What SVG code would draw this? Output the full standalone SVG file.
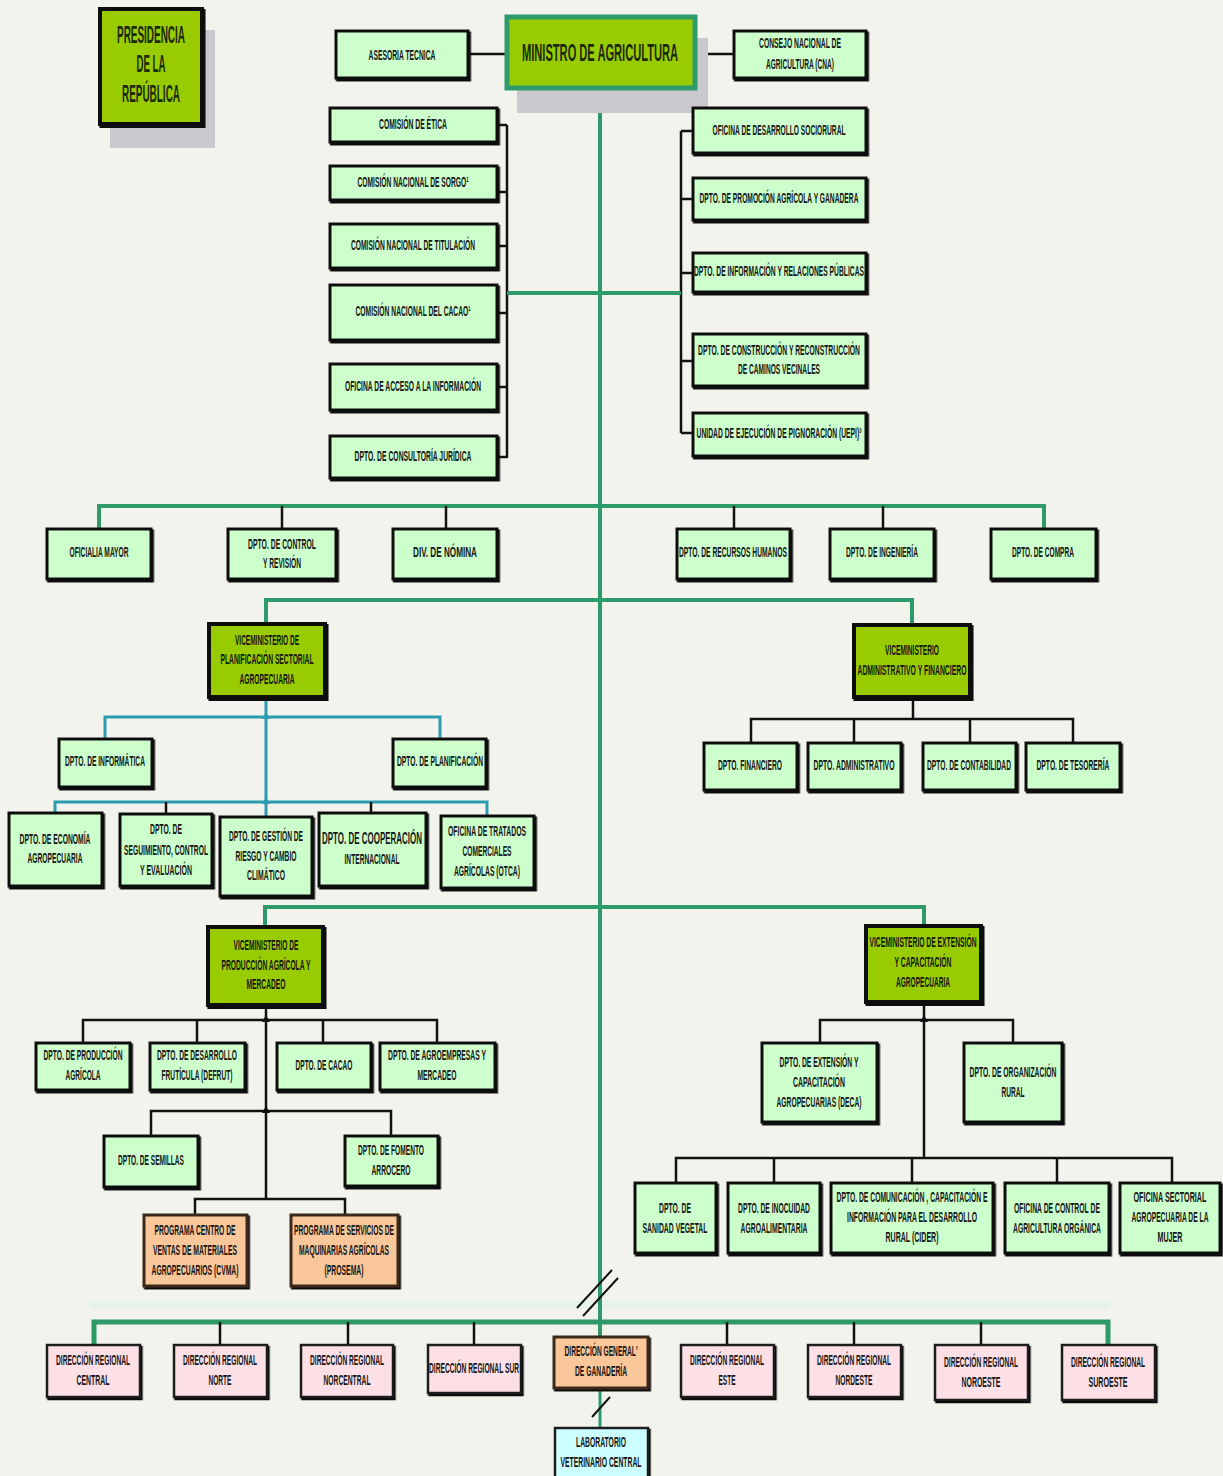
<svg xmlns="http://www.w3.org/2000/svg" width="1223" height="1476" viewBox="0 0 1223 1476">
<defs>
<filter id="sh" x="-5%" y="-5%" width="115%" height="120%"><feDropShadow dx="1.5" dy="2" stdDeviation="0" flood-color="#111" flood-opacity="1"/></filter>
<style>
.bg{fill:#f3f3ee}
.n rect{fill:#ccffcc;stroke:#111;stroke-width:3;filter:url(#sh)}
.vm rect{fill:#99cc00;stroke:#111;stroke-width:4;filter:url(#sh)}
.pk rect{fill:#fde0e6;stroke:#1a1a1a;stroke-width:2.5;filter:url(#sh)}
.or rect{fill:#fac79a;stroke:#3a2a1a;stroke-width:3;filter:url(#sh)}
.cy rect{fill:#ccffff;stroke:#1a1a1a;stroke-width:2.5;filter:url(#sh)}
text{font-family:"Liberation Sans",Arial,sans-serif;font-weight:bold;font-size:14px;fill:#161616;text-anchor:middle}
.big{font-size:24px;fill:#1c2a0c}
.g{stroke:#2e9a6a;stroke-width:4;fill:none}
.gt{stroke:#2e9a6a;stroke-width:3;fill:none}
.tl{stroke:#2b9bb0;stroke-width:3;fill:none}
.k{stroke:#111;stroke-width:2.5;fill:none}
.shade{fill:#c9c8cd}
.cg{fill:#2e9a6a}
.ct{fill:#2b9bb0}
.ck{fill:#111}
</style>
</defs>
<rect class="bg" x="0" y="0" width="1223" height="1476"/>
<rect x="90" y="1301" width="1020" height="8" fill="#e3f3e6" opacity="0.8"/>

<g id="connectors">
<path class="g" d="M600 88V1337"/>
<path class="gt" d="M600 1388V1428"/>
<path class="k" d="M468 54H507M695 54H734"/>
<path class="k" d="M507 125V458M497 125H507M497 192H507M497 246H507M497 313H507M497 387H507M497 457H507"/>
<path class="k" d="M681 131V433M681 131H693M681 199H693M681 273H693M681 361H693M681 433H693"/>
<path class="g" d="M507 293H681"/>
<path class="g" d="M99 529V506H1044V529"/>
<path class="k" d="M282 506V529M446 506V529M734 506V529M883 506V529"/>
<path class="g" d="M266 624V600H912V625"/>
<path class="tl" d="M266 697V817M105 739V717H440V739M55 813V802H487V816"/>
<path class="k" d="M166 802V814M371 802V813"/>
<path class="k" d="M913 697V719M751 743V719H1073V743M854 719V743M970 719V743"/>
<path class="g" d="M265 927V907H924V926"/>
<path class="k" d="M266 1005V1199M83 1043V1020H437V1043M197 1020V1043M323 1020V1043"/>
<path class="k" d="M151 1136V1111H391V1136M195 1215V1199H345V1215"/>
<path class="k" d="M924 1002V1158M820 1043V1020H1013V1043M676 1183V1158H1172V1183M774 1158V1183M912 1158V1183M1057 1158V1183"/>
<path class="g" d="M94 1345V1322H1108V1345" style="stroke-width:5"/>
<path class="k" d="M220 1322V1345M348 1322V1345M474 1322V1345M727 1322V1345M854 1322V1345M981 1322V1345"/>
<path class="k" d="M577 1308L612 1270M583 1316L618 1278M592 1417L610 1397" style="stroke-width:2"/>
<polygon class="cg" points="596,295 600,288 604,295"/>
<polygon class="cg" points="596,508 600,501 604,508"/>
<polygon class="cg" points="596,602 600,595 604,602"/>
<polygon class="cg" points="596,909 600,902 604,909"/>
<polygon class="cg" points="596,1324 600,1316 604,1324"/>
<polygon class="ct" points="262,719 266,712 270,719"/>
<polygon class="ct" points="262,804 266,797 270,804"/>
<polygon class="ck" points="262,1022 266,1015 270,1022"/>
<polygon class="ck" points="262,1113 266,1106 270,1113"/>
<polygon class="ck" points="920,1022 924,1015 928,1022"/>
</g>

<g id="presidencia">
<rect class="shade" x="110" y="30" width="105" height="118"/>
<g class="vm"><rect x="100" y="9" width="102" height="115"/></g>
<text class="big" x="151" y="43" textLength="68" lengthAdjust="spacingAndGlyphs">PRESIDENCIA</text>
<text class="big" x="151" y="72" textLength="29" lengthAdjust="spacingAndGlyphs">DE LA</text>
<text class="big" x="151" y="102" textLength="58" lengthAdjust="spacingAndGlyphs">REPÚBLICA</text>
</g>

<g id="ministro">
<rect class="shade" x="517" y="38" width="191" height="75"/>
<rect x="507" y="17" width="188" height="71" fill="#99cc00" stroke="#2e9a6a" stroke-width="5"/>
<text class="big" x="600" y="61" textLength="156" lengthAdjust="spacingAndGlyphs">MINISTRO DE AGRICULTURA</text>
</g>

<g id="asesoria" class="n"><rect x="336" y="31" width="132" height="47"/><text x="402" y="60" textLength="67" lengthAdjust="spacingAndGlyphs">ASESORIA TECNICA</text></g>
<g id="cna" class="n"><rect x="734" y="31" width="132" height="47"/><text x="800" y="48" textLength="82" lengthAdjust="spacingAndGlyphs">CONSEJO NACIONAL DE</text><text x="800" y="69" textLength="68" lengthAdjust="spacingAndGlyphs">AGRICULTURA (CNA)</text></g>

<g id="etica" class="n"><rect x="330" y="108" width="167" height="34"/><text x="413" y="129" textLength="68" lengthAdjust="spacingAndGlyphs">COMISIÓN DE ÉTICA</text></g>
<g id="sorgo" class="n"><rect x="330" y="166" width="167" height="34"/><text x="413" y="187" textLength="111" lengthAdjust="spacingAndGlyphs">COMISIÓN NACIONAL DE SORGO¹</text></g>
<g id="titulacion" class="n"><rect x="330" y="224" width="167" height="44"/><text x="413" y="250" textLength="124" lengthAdjust="spacingAndGlyphs">COMISIÓN NACIONAL DE TITULACIÓN</text></g>
<g id="cacao-com" class="n"><rect x="330" y="285" width="167" height="55"/><text x="413" y="316" textLength="115" lengthAdjust="spacingAndGlyphs">COMISIÓN NACIONAL DEL CACAO¹</text></g>
<g id="acceso" class="n"><rect x="330" y="364" width="167" height="46"/><text x="413" y="391" textLength="136" lengthAdjust="spacingAndGlyphs">OFICINA DE ACCESO A LA INFORMACIÓN</text></g>
<g id="consultoria" class="n"><rect x="330" y="436" width="167" height="42"/><text x="413" y="461" textLength="117" lengthAdjust="spacingAndGlyphs">DPTO. DE CONSULTORÍA JURÍDICA</text></g>

<g id="sociorural" class="n"><rect x="693" y="108" width="173" height="45"/><text x="779" y="135" textLength="133" lengthAdjust="spacingAndGlyphs">OFICINA DE DESARROLLO SOCIORURAL</text></g>
<g id="promocion" class="n"><rect x="693" y="178" width="173" height="42"/><text x="779" y="203" textLength="159" lengthAdjust="spacingAndGlyphs">DPTO. DE PROMOCIÓN AGRÍCOLA Y GANADERA</text></g>
<g id="informacion" class="n"><rect x="693" y="253" width="173" height="39"/><text x="779" y="276" textLength="170" lengthAdjust="spacingAndGlyphs">DPTO. DE INFORMACIÓN Y RELACIONES PÚBLICAS</text></g>
<g id="construccion" class="n"><rect x="693" y="334" width="173" height="52"/><text x="779" y="355" textLength="162" lengthAdjust="spacingAndGlyphs">DPTO. DE CONSTRUCCIÓN  Y RECONSTRUCCIÓN</text><text x="779" y="374" textLength="82" lengthAdjust="spacingAndGlyphs">DE CAMINOS VECINALES</text></g>
<g id="uepi" class="n"><rect x="693" y="413" width="173" height="43"/><text x="779" y="438" textLength="165" lengthAdjust="spacingAndGlyphs">UNIDAD DE EJECUCIÓN  DE PIGNORACIÓN (UEPI)³</text></g>

<g id="oficialia" class="n"><rect x="47" y="529" width="104" height="50"/><text x="99" y="557" textLength="59" lengthAdjust="spacingAndGlyphs">OFICIALIA MAYOR</text></g>
<g id="control" class="n"><rect x="228" y="529" width="108" height="50"/><text x="282" y="549" textLength="68" lengthAdjust="spacingAndGlyphs">DPTO. DE  CONTROL</text><text x="282" y="568" textLength="38" lengthAdjust="spacingAndGlyphs">Y REVISIÓN</text></g>
<g id="nomina" class="n"><rect x="393" y="529" width="104" height="50"/><text x="445" y="557" textLength="64" lengthAdjust="spacingAndGlyphs">DIV.  DE NÓMINA</text></g>
<g id="rrhh" class="n"><rect x="677" y="529" width="113" height="50"/><text x="733" y="557" textLength="108" lengthAdjust="spacingAndGlyphs">DPTO. DE RECURSOS HUMANOS</text></g>
<g id="ingenieria" class="n"><rect x="830" y="529" width="104" height="50"/><text x="882" y="557" textLength="72" lengthAdjust="spacingAndGlyphs">DPTO. DE INGENIERÍA</text></g>
<g id="compra" class="n"><rect x="991" y="529" width="105" height="50"/><text x="1043" y="557" textLength="62" lengthAdjust="spacingAndGlyphs">DPTO. DE COMPRA</text></g>

<g id="vm-planificacion" class="vm"><rect x="209" y="624" width="116" height="73"/><text x="267" y="645" textLength="64" lengthAdjust="spacingAndGlyphs">VICEMINISTERIO DE</text><text x="267" y="664" textLength="93" lengthAdjust="spacingAndGlyphs">PLANIFICACIÓN SECTORIAL</text><text x="267" y="684" textLength="55" lengthAdjust="spacingAndGlyphs">AGROPECUARIA</text></g>
<g id="vm-administrativo" class="vm"><rect x="854" y="625" width="116" height="72"/><text x="912" y="655" textLength="54" lengthAdjust="spacingAndGlyphs">VICEMINISTERIO</text><text x="912" y="675" textLength="109" lengthAdjust="spacingAndGlyphs">ADMINISTRATIVO Y FINANCIERO</text></g>

<g id="informatica" class="n"><rect x="59" y="739" width="93" height="48"/><text x="105" y="766" textLength="80" lengthAdjust="spacingAndGlyphs">DPTO. DE INFORMÁTICA</text></g>
<g id="planificacion" class="n"><rect x="393" y="739" width="93" height="48"/><text x="440" y="766" textLength="86" lengthAdjust="spacingAndGlyphs">DPTO. DE PLANIFICACIÓN</text></g>

<g id="economia" class="n"><rect x="9" y="813" width="93" height="73"/><text x="55" y="844" textLength="71" lengthAdjust="spacingAndGlyphs">DPTO. DE ECONOMÍA</text><text x="55" y="863" textLength="55" lengthAdjust="spacingAndGlyphs">AGROPECUARIA</text></g>
<g id="seguimiento" class="n"><rect x="120" y="814" width="92" height="72"/><text x="166" y="834" textLength="32" lengthAdjust="spacingAndGlyphs">DPTO. DE</text><text x="166" y="855" textLength="84" lengthAdjust="spacingAndGlyphs">SEGUIMIENTO, CONTROL</text><text x="166" y="875" textLength="52" lengthAdjust="spacingAndGlyphs">Y EVALUACIÓN</text></g>
<g id="gestion" class="n"><rect x="220" y="817" width="92" height="79"/><text x="266" y="841" textLength="74" lengthAdjust="spacingAndGlyphs">DPTO. DE GESTIÓN DE</text><text x="266" y="861" textLength="61" lengthAdjust="spacingAndGlyphs">RIESGO Y CAMBIO</text><text x="266" y="880" textLength="38" lengthAdjust="spacingAndGlyphs">CLIMÁTICO</text></g>
<g id="cooperacion" class="n"><rect x="319" y="813" width="107" height="73"/><text x="372" y="844" textLength="100" lengthAdjust="spacingAndGlyphs" style="font-size:16px">DPTO. DE COOPERACIÓN</text><text x="372" y="864" textLength="55" lengthAdjust="spacingAndGlyphs">INTERNACIONAL</text></g>
<g id="otca" class="n"><rect x="441" y="816" width="93" height="72"/><text x="487" y="836" textLength="78" lengthAdjust="spacingAndGlyphs">OFICINA DE TRATADOS</text><text x="487" y="856" textLength="49" lengthAdjust="spacingAndGlyphs">COMERCIALES</text><text x="487" y="876" textLength="66" lengthAdjust="spacingAndGlyphs">AGRÍCOLAS (OTCA)</text></g>

<g id="financiero" class="n"><rect x="704" y="743" width="93" height="47"/><text x="750" y="770" textLength="64" lengthAdjust="spacingAndGlyphs">DPTO. FINANCIERO</text></g>
<g id="administrativo" class="n"><rect x="808" y="743" width="93" height="47"/><text x="854" y="770" textLength="81" lengthAdjust="spacingAndGlyphs">DPTO. ADMINISTRATIVO</text></g>
<g id="contabilidad" class="n"><rect x="923" y="743" width="93" height="47"/><text x="969" y="770" textLength="84" lengthAdjust="spacingAndGlyphs">DPTO. DE CONTABILIDAD</text></g>
<g id="tesoreria" class="n"><rect x="1026" y="743" width="94" height="47"/><text x="1073" y="770" textLength="73" lengthAdjust="spacingAndGlyphs">DPTO. DE  TESORERÍA</text></g>

<g id="vm-produccion" class="vm"><rect x="208" y="927" width="115" height="78"/><text x="266" y="950" textLength="65" lengthAdjust="spacingAndGlyphs">VICEMINISTERIO DE</text><text x="266" y="970" textLength="89" lengthAdjust="spacingAndGlyphs">PRODUCCIÓN AGRÍCOLA Y</text><text x="266" y="989" textLength="39" lengthAdjust="spacingAndGlyphs">MERCADEO</text></g>
<g id="vm-extension" class="vm"><rect x="866" y="926" width="115" height="76"/><text x="923" y="947" textLength="107" lengthAdjust="spacingAndGlyphs">VICEMINISTERIO DE EXTENSIÓN</text><text x="923" y="967" textLength="57" lengthAdjust="spacingAndGlyphs">Y CAPACITACIÓN</text><text x="923" y="987" textLength="54" lengthAdjust="spacingAndGlyphs">AGROPECUARIA</text></g>

<g id="produccion-agricola" class="n"><rect x="36" y="1043" width="94" height="47"/><text x="83" y="1060" textLength="79" lengthAdjust="spacingAndGlyphs">DPTO. DE PRODUCCIÓN</text><text x="83" y="1080" textLength="35" lengthAdjust="spacingAndGlyphs">AGRÍCOLA</text></g>
<g id="defrut" class="n"><rect x="150" y="1043" width="95" height="47"/><text x="197" y="1060" textLength="80" lengthAdjust="spacingAndGlyphs">DPTO. DE DESARROLLO</text><text x="197" y="1080" textLength="71" lengthAdjust="spacingAndGlyphs">FRUTÍCULA (DEFRUT)</text></g>
<g id="dpto-cacao" class="n"><rect x="277" y="1043" width="94" height="47"/><text x="324" y="1070" textLength="57" lengthAdjust="spacingAndGlyphs">DPTO. DE CACAO</text></g>
<g id="agroempresas" class="n"><rect x="380" y="1043" width="115" height="47"/><text x="437" y="1060" textLength="98" lengthAdjust="spacingAndGlyphs">DPTO. DE AGROEMPRESAS  Y</text><text x="437" y="1080" textLength="39" lengthAdjust="spacingAndGlyphs">MERCADEO</text></g>
<g id="semillas" class="n"><rect x="104" y="1136" width="94" height="51"/><text x="151" y="1165" textLength="66" lengthAdjust="spacingAndGlyphs">DPTO. DE SEMILLAS</text></g>
<g id="arrocero" class="n"><rect x="345" y="1136" width="93" height="50"/><text x="391" y="1155" textLength="66" lengthAdjust="spacingAndGlyphs">DPTO. DE FOMENTO</text><text x="391" y="1175" textLength="39" lengthAdjust="spacingAndGlyphs">ARROCERO</text></g>
<g id="cvma" class="or"><rect x="144" y="1215" width="103" height="71"/><text x="195" y="1235" textLength="81" lengthAdjust="spacingAndGlyphs">PROGRAMA CENTRO DE</text><text x="195" y="1255" textLength="84" lengthAdjust="spacingAndGlyphs">VENTAS DE MATERIALES</text><text x="195" y="1275" textLength="87" lengthAdjust="spacingAndGlyphs">AGROPECUARIOS (CVMA)</text></g>
<g id="prosema" class="or"><rect x="291" y="1215" width="107" height="71"/><text x="344" y="1235" textLength="100" lengthAdjust="spacingAndGlyphs">PROGRAMA DE SERVICIOS DE</text><text x="344" y="1255" textLength="90" lengthAdjust="spacingAndGlyphs">MAQUINARIAS AGRÍCOLAS</text><text x="344" y="1275" textLength="39" lengthAdjust="spacingAndGlyphs">(PROSEMA)</text></g>

<g id="deca" class="n"><rect x="762" y="1043" width="115" height="79"/><text x="819" y="1067" textLength="79" lengthAdjust="spacingAndGlyphs">DPTO. DE EXTENSIÓN Y</text><text x="819" y="1087" textLength="52" lengthAdjust="spacingAndGlyphs">CAPACITACIÓN</text><text x="819" y="1107" textLength="85" lengthAdjust="spacingAndGlyphs">AGROPECUARIAS (DECA)</text></g>
<g id="organizacion" class="n"><rect x="964" y="1043" width="98" height="79"/><text x="1013" y="1077" textLength="87" lengthAdjust="spacingAndGlyphs">DPTO. DE ORGANIZACIÓN</text><text x="1013" y="1097" textLength="23" lengthAdjust="spacingAndGlyphs">RURAL</text></g>
<g id="sanidad" class="n"><rect x="635" y="1183" width="81" height="70"/><text x="675" y="1213" textLength="32" lengthAdjust="spacingAndGlyphs">DPTO. DE</text><text x="675" y="1233" textLength="65" lengthAdjust="spacingAndGlyphs">SANIDAD VEGETAL</text></g>
<g id="inocuidad" class="n"><rect x="728" y="1183" width="92" height="70"/><text x="774" y="1213" textLength="72" lengthAdjust="spacingAndGlyphs">DPTO. DE INOCUIDAD</text><text x="774" y="1233" textLength="67" lengthAdjust="spacingAndGlyphs">AGROALIMENTARIA</text></g>
<g id="cider" class="n"><rect x="831" y="1183" width="162" height="70"/><text x="912" y="1202" textLength="151" lengthAdjust="spacingAndGlyphs">DPTO. DE COMUNICACIÓN , CAPACITACIÓN  E</text><text x="912" y="1222" textLength="130" lengthAdjust="spacingAndGlyphs">INFORMACIÓN PARA  EL DESARROLLO</text><text x="912" y="1242" textLength="53" lengthAdjust="spacingAndGlyphs">RURAL  (CIDER)</text></g>
<g id="organica" class="n"><rect x="1005" y="1183" width="104" height="70"/><text x="1057" y="1213" textLength="86" lengthAdjust="spacingAndGlyphs">OFICINA DE CONTROL DE</text><text x="1057" y="1233" textLength="88" lengthAdjust="spacingAndGlyphs">AGRICULTURA ORGÁNICA</text></g>
<g id="mujer" class="n"><rect x="1120" y="1183" width="100" height="70"/><text x="1170" y="1202" textLength="73" lengthAdjust="spacingAndGlyphs">OFICINA SECTORIAL</text><text x="1170" y="1222" textLength="77" lengthAdjust="spacingAndGlyphs">AGROPECUARIA DE LA</text><text x="1170" y="1242" textLength="25" lengthAdjust="spacingAndGlyphs">MUJER</text></g>

<g id="dr-central" class="pk"><rect x="47" y="1345" width="93" height="52"/><text x="93" y="1365" textLength="74" lengthAdjust="spacingAndGlyphs">DIRECCIÓN REGIONAL</text><text x="93" y="1385" textLength="33" lengthAdjust="spacingAndGlyphs">CENTRAL</text></g>
<g id="dr-norte" class="pk"><rect x="174" y="1345" width="93" height="52"/><text x="220" y="1365" textLength="74" lengthAdjust="spacingAndGlyphs">DIRECCIÓN REGIONAL</text><text x="220" y="1385" textLength="23" lengthAdjust="spacingAndGlyphs">NORTE</text></g>
<g id="dr-norcentral" class="pk"><rect x="301" y="1345" width="92" height="52"/><text x="347" y="1365" textLength="74" lengthAdjust="spacingAndGlyphs">DIRECCIÓN REGIONAL</text><text x="347" y="1385" textLength="47" lengthAdjust="spacingAndGlyphs">NORCENTRAL</text></g>
<g id="dr-sur" class="pk"><rect x="428" y="1345" width="93" height="48"/><text x="474" y="1373" textLength="90" lengthAdjust="spacingAndGlyphs">DIRECCIÓN REGIONAL  SUR</text></g>
<g id="ganaderia" class="or"><rect x="554" y="1337" width="94" height="51"/><text x="601" y="1356" textLength="73" lengthAdjust="spacingAndGlyphs">DIRECCIÓN GENERAL'</text><text x="601" y="1376" textLength="52" lengthAdjust="spacingAndGlyphs">DE GANADERÍA</text></g>
<g id="dr-este" class="pk"><rect x="681" y="1345" width="93" height="52"/><text x="727" y="1365" textLength="74" lengthAdjust="spacingAndGlyphs">DIRECCIÓN REGIONAL</text><text x="727" y="1385" textLength="17" lengthAdjust="spacingAndGlyphs">ESTE</text></g>
<g id="dr-nordeste" class="pk"><rect x="808" y="1345" width="93" height="52"/><text x="854" y="1365" textLength="74" lengthAdjust="spacingAndGlyphs">DIRECCIÓN REGIONAL</text><text x="854" y="1385" textLength="37" lengthAdjust="spacingAndGlyphs">NORDESTE</text></g>
<g id="dr-noroeste" class="pk"><rect x="935" y="1345" width="93" height="55"/><text x="981" y="1367" textLength="74" lengthAdjust="spacingAndGlyphs">DIRECCIÓN REGIONAL</text><text x="981" y="1387" textLength="39" lengthAdjust="spacingAndGlyphs">NOROESTE</text></g>
<g id="dr-suroeste" class="pk"><rect x="1062" y="1345" width="93" height="55"/><text x="1108" y="1367" textLength="74" lengthAdjust="spacingAndGlyphs">DIRECCIÓN REGIONAL</text><text x="1108" y="1387" textLength="39" lengthAdjust="spacingAndGlyphs">SUROESTE</text></g>
<g id="laboratorio" class="cy"><rect x="555" y="1428" width="93" height="52"/><text x="601" y="1447" textLength="50" lengthAdjust="spacingAndGlyphs">LABORATORIO</text><text x="601" y="1467" textLength="81" lengthAdjust="spacingAndGlyphs">VETERINARIO CENTRAL</text></g>
</svg>
